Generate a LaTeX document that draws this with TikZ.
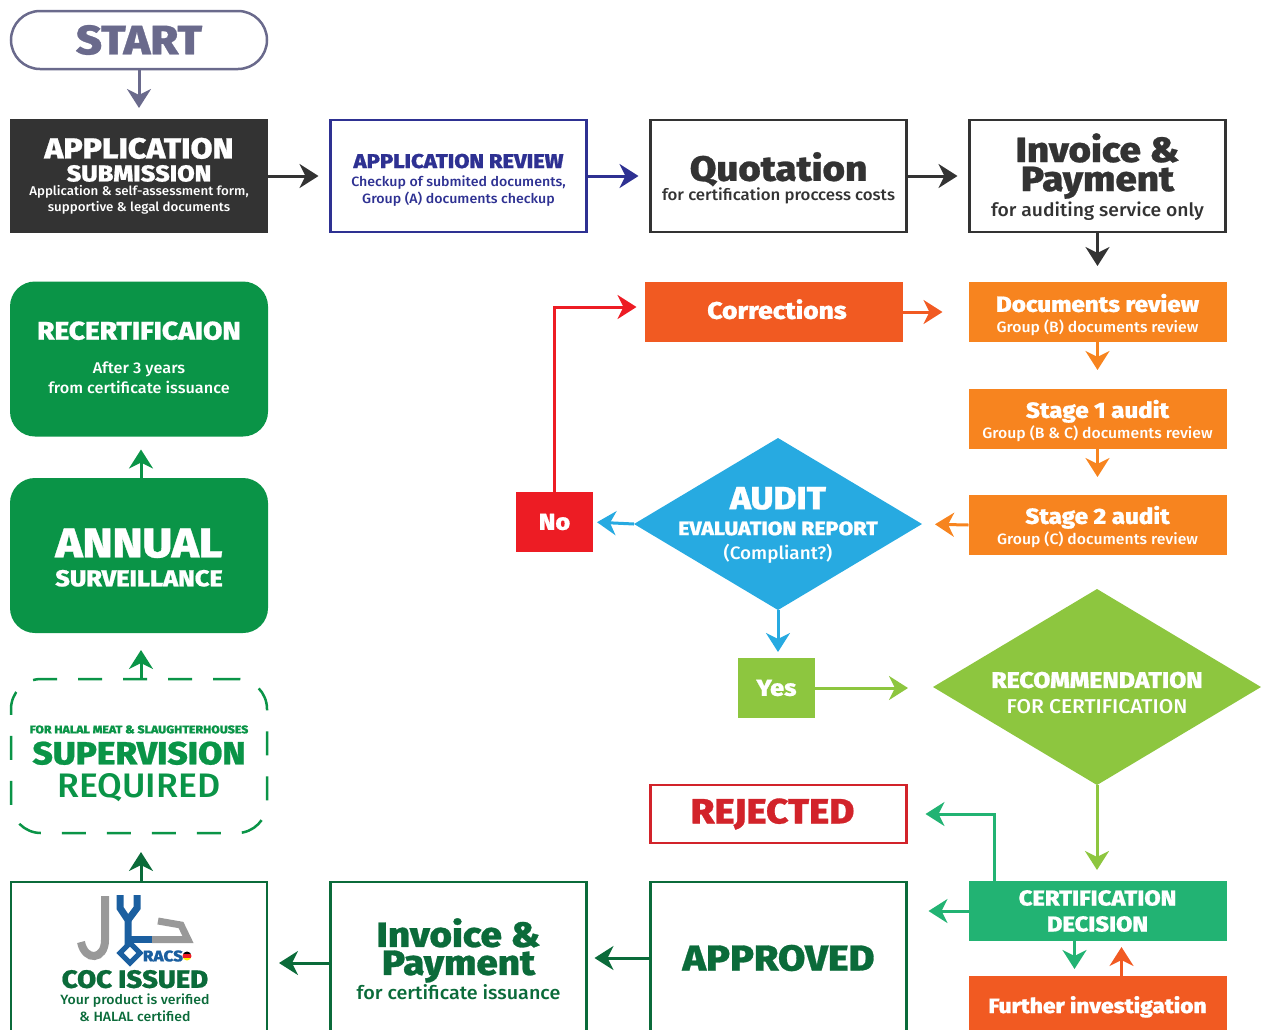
\documentclass[tikz,border=0pt]{standalone}
\usepackage{fontspec}
\usetikzlibrary{arrows.meta,shapes.geometric}
\setmainfont{Fira Sans}
\newfontfamily\heavyfont{Fira Sans ExtraBold}[FakeStretch=1.1,FakeBold=0.8]
\newfontfamily\mediumfont{Fira Sans Medium}[FakeStretch=1.05]
\newcommand{\hv}[2]{{\heavyfont\fontsize{#1}{#1}\selectfont #2}}
\newcommand{\mdm}[2]{{\mediumfont\fontsize{#1}{#1}\selectfont #2}}
\newcommand{\topgap}[1]{\rule{0pt}{#1pt}}
\newcommand{\botgap}[1]{\rule[-#1pt]{0pt}{1pt}}
\definecolor{startgray}{HTML}{6A6A8C}
\definecolor{darkbox}{HTML}{333333}
\definecolor{reviewblue}{HTML}{2E3192}
\definecolor{redorange}{HTML}{F15A22}
\definecolor{auditorange}{HTML}{F7841F}
\definecolor{skyblue}{HTML}{27AAE1}
\definecolor{noRed}{HTML}{ED1C24}
\definecolor{limegreen}{HTML}{8DC63F}
\definecolor{rejectRed}{HTML}{D2232A}
\definecolor{certgreen}{HTML}{22B373}
\definecolor{darkgreen}{HTML}{0B6B3A}
\definecolor{midgreen}{HTML}{0A9447}
\definecolor{logoblue}{HTML}{1B5FA0}
\definecolor{logogray}{HTML}{999999}
\normallineskiplimit=-50pt

\begin{document}
\lineskiplimit=-50pt
\begin{tikzpicture}[x=1pt,y=-1pt]
	\tikzset{
		box/.style={rectangle, minimum width=258pt, minimum height=#1, inner sep=0pt, outer sep=0pt, align=center, line width=2.5pt},
		box/.default=112pt,
		frame/.style={draw=#1, minimum width=256pt},
		leading/.style={font=\fontsize{12}{#1}\selectfont},
		flow/.style={-{Stealth[length=19pt,width=24pt,inset=6pt]}, line width=3pt},
		rhomb/.style={diamond, inner sep=0pt, outer sep=0pt}
	}
	\useasboundingbox (0,0) rectangle (1265,1029);
	\clip (0,0) rectangle (1265,1029);

	% Top row
	\node[box=58pt, frame=startgray, rounded corners=29pt, text=startgray, leading=40pt] (start) at (139,40) {\hv{41}{START}};
	\node[box=114pt, fill=darkbox, text=white, leading=16pt] (application) at (139,176) {\hv{29}{APPLICATION}\\[7pt]\hv{23}{SUBMISSION}\\[-2pt]\mdm{12.7}{Application \& self-assessment form,}\\\mdm{12.7}{supportive \& legal documents}};
	\node[box, frame=reviewblue, text=reviewblue, leading=17pt] (review) at (458.5,176) {\topgap{22}\hv{20}{APPLICATION REVIEW}\\[1pt]\mdm{13.5}{Checkup of submited documents,}\\\mdm{13.5}{Group (A) documents checkup}};
	\node[box, frame=darkbox, text=darkbox, leading=19pt] (quotation) at (778.5,176) {\topgap{33}\hv{35}{Quotation}\\[1pt]\mdm{16}{for certification proccess costs}};
	\node[box, frame=darkbox, text=darkbox, leading=29pt] (invoiceA) at (1097.5,176) {\topgap{30}\hv{35}{Invoice \&}\\\hv{35}{Payment}\\[-4pt]\mdm{18.4}{for auditing service only}};

	% Audit column
	\node[box=60pt, fill=redorange, text=white, leading=20pt] (corrections) at (773.5,312) {\hspace{7pt}\hv{24}{Corrections}\botgap{6}};
	\node[box=60pt, fill=auditorange, text=white, leading=21pt] (documents) at (1097.5,312) {\topgap{24}\hv{22}{Documents review}\\\mdm{15}{Group (B) documents review}};
	\node[box=60pt, fill=auditorange, text=white, leading=21pt] (stageOne) at (1097.5,419) {\topgap{22}\hv{22}{Stage 1 audit}\\\mdm{15}{Group (B \& C) documents review}};
	\node[box=60pt, fill=auditorange, text=white, leading=21pt] (stageTwo) at (1097.5,525) {\topgap{22}\hv{22}{Stage 2 audit}\\\mdm{15}{Group (C) documents review}};

	% Decisions
	\node[rhomb, minimum width=288pt, minimum height=172pt, fill=skyblue] (audit) at (778,524) {};
	\node[text=white, align=center, leading=24pt] (auditText) at (778,525) {\hv{32}{AUDIT}\\[2pt]\hv{19.4}{EVALUATION REPORT}\\\mdm{18}{(Compliant?)}};
	\node[box=60pt, minimum width=77pt, fill=noRed, text=white, leading=20pt] (no) at (554.5,522) {\hv{23}{No}};
	\node[box=60pt, minimum width=77pt, fill=limegreen, text=white, leading=20pt] (yes) at (776.5,688) {\hv{23}{Yes}};
	\node[rhomb, minimum width=328pt, minimum height=196pt, fill=limegreen] (recommendation) at (1097,687) {};
	\node[text=white, align=center, leading=26pt] (recommendationText) at (1097,693) {\hv{22.6}{RECOMMENDATION}\\\mdm{20}{FOR CERTIFICATION}};

	% Bottom row
	\node[box=58pt, frame=rejectRed, text=rejectRed, leading=30pt] (rejected) at (778.5,814) {\hv{35}{REJECTED}\hspace{12pt}};
	\node[box=60pt, fill=certgreen, text=white, leading=26pt] (decision) at (1097.5,911) {\hv{21.6}{CERTIFICATION}\\\hv{21.6}{DECISION}};
	\node[box=64pt, fill=redorange, text=white, leading=20pt] (further) at (1097.5,1008) {\hv{20.7}{Further investigation}\botgap{7}};
	\node[box=152pt, frame=darkgreen, text=darkgreen, leading=30pt] (approved) at (778.5,958) {\hv{36}{APPROVED}};
	\node[box=152pt, frame=darkgreen, text=darkgreen, leading=26pt] (invoiceB) at (458.5,958) {\topgap{31}\hv{35}{Invoice \&}\\[2pt]\hv{35}{Payment}\\[-1pt]\mdm{18.8}{for certificate issuance}};
	\node[box=152pt, frame=darkgreen] (coc) at (139,958) {};
	\node[text=darkgreen, align=center, leading=17pt] (cocText) at (135,996) {\hv{25}{COC ISSUED}\\\mdm{13.4}{Your product is verified}\\\mdm{13.4}{\& HALAL certified}};

	% Left column going up
	\node[box=154pt, frame=midgreen, dash pattern=on 24pt off 21pt, text=midgreen, rounded corners=30pt, leading=30pt] (supervision) at (139,756) {\topgap{23}\hv{11.2}{FOR HALAL MEAT \& SLAUGHTERHOUSES}\\[1pt]\hv{32}{SUPERVISION}\\[3pt]\mdm{34}{REQUIRED}};
	\node[box=155pt, fill=midgreen, text=white, rounded corners=25pt, leading=29pt] (annual) at (139,555.5) {\topgap{33}\hv{41.5}{ANNUAL}\\\hv{23}{SURVEILLANCE}};
	\node[box=155pt, fill=midgreen, text=white, rounded corners=25pt, leading=20pt] (recert) at (139,359) {\hv{25.5}{RECERTIFICAION}\\[14pt]\mdm{15.5}{After 3 years}\\\mdm{15.5}{from certificate issuance}\botgap{3}};

	% Halal logo
	\draw[logogray, line width=8pt] (105,896) -- (105,940) .. controls (105,960) and (85,962) .. (81,942);
	\draw[logogray, line width=7pt] (152,939.5) -- (188,939.5) -- (181,925) -- (158,921);
	\draw[logoblue, line width=7pt] (120,895) -- (120,908) -- (128,920) -- (128,946);
	\draw[logoblue, line width=7pt] (137,895) -- (137,908) -- (128,920);
	\draw[logoblue, line width=7pt] (128,939.5) -- (152,939.5);
	\draw[logoblue, line width=5pt] (130,943) -- (140,953) -- (130,963) -- (120,953) -- cycle;
	\node[text=logoblue, inner sep=0pt] (racs) at (163,956) {\hv{15.5}{RACS}};
	\begin{scope}
		\clip (187,956) circle (4.5);
		\fill[black] (182,951) rectangle (192,954);
		\fill[noRed] (182,954) rectangle (192,958);
		\fill[yellow] (182,958) rectangle (192,961);
	\end{scope}

	% Connectors
	\draw[flow, startgray, shorten >=11pt] (start) -- (application);
	\draw[flow, darkbox, shorten >=12pt] (application) -- (review);
	\draw[flow, reviewblue, shorten >=12pt] (review) -- (quotation);
	\draw[flow, darkbox, shorten >=12pt] (quotation) -- (invoiceA);
	\draw[flow, darkbox, shorten >=16pt] (invoiceA) -- (documents);
	\draw[flow, redorange, shorten >=26pt] (corrections) -- (documents);
	\draw[flow, auditorange, shorten >=19pt] (documents) -- (stageOne);
	\draw[flow, auditorange, shorten >=18pt] (stageOne) -- (stageTwo);
	\draw[flow, auditorange, shorten >=13pt] (stageTwo.west) -- (audit.east);
	\draw[flow, skyblue, shorten >=4pt] (audit.west) -- (no.east);
	\draw[flow, skyblue, shorten >=6pt] (audit.south) -- (yes.north -| audit.south);
	\draw[flow, noRed, shorten >=8pt] (no.north) |- ([yshift=5pt]corrections.west);
	\draw[flow, limegreen, shorten >=25pt] (yes.east) -- (recommendation.west |- yes.east);
	\draw[flow, limegreen, shorten >=11pt] (recommendation.south) -- (decision.north -| recommendation.south);
	\draw[flow, certgreen, shorten >=19pt] ([xshift=26pt]decision.north west) |- (rejected.east);
	\draw[flow, certgreen, shorten >=22pt] (decision.west) -- (approved.east |- decision.west);
	\draw[flow, certgreen, shorten >=7pt] ([xshift=-23pt]decision.south) -- ([xshift=-23pt]further.north);
	\draw[flow, redorange, shorten >=6pt] ([xshift=24pt]further.north) -- ([xshift=24pt]decision.south);
	\draw[flow, darkgreen, shorten >=8pt] (approved) -- (invoiceB);
	\draw[flow, darkgreen, shorten >=12pt] ([yshift=-5pt]invoiceB.west) -- ([yshift=-5pt]coc.east);
	\draw[flow, darkgreen, shorten >=19pt] ([xshift=2pt]coc.north) -- ([xshift=2pt]supervision.south);
	\draw[flow, midgreen, shorten >=17pt] ([xshift=2pt]supervision.north) -- ([xshift=2pt]annual.south);
	\draw[flow, midgreen, shorten >=13pt] ([xshift=2pt]annual.north) -- ([xshift=2pt]recert.south);
\end{tikzpicture}
\end{document}
